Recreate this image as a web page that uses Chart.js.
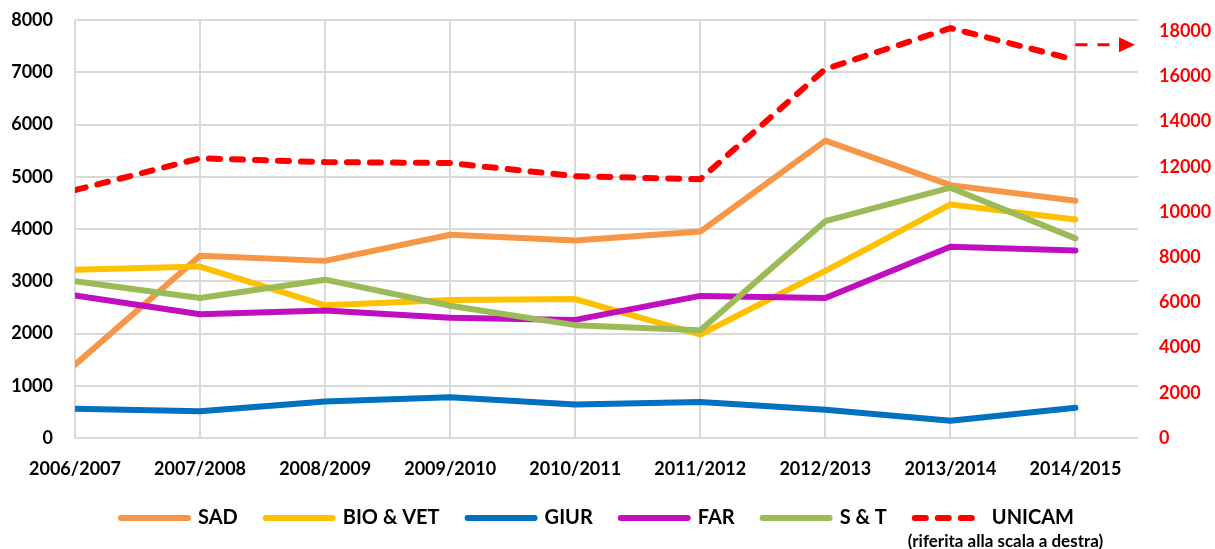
<!DOCTYPE html>
<html><head><meta charset="utf-8">
<script src="https://cdn.jsdelivr.net/npm/chart.js@4/dist/chart.umd.min.js"></script>
<style>html,body{margin:0;padding:0;background:#fff}#wrap{width:1215px;height:549px;position:relative}</style>
</head><body><div id="wrap"><canvas id="c" width="1215" height="549"></canvas></div>
<script>
const categories = ['2006/2007','2007/2008','2008/2009','2009/2010','2010/2011','2011/2012','2012/2013','2013/2014','2014/2015'];
const sad    = [1400,3490,3390,3890,3780,3950,5690,4840,4540];
const bioVet = [3220,3280,2540,2640,2660,1980,3200,4470,4180];
const giur   = [560,510,700,780,640,690,540,330,580];
const far    = [2730,2370,2440,2300,2260,2720,2680,3660,3590];
const st     = [3000,2680,3030,2530,2160,2060,4150,4790,3820];
const unicam = [10970,12380,12210,12170,11590,11450,16330,18140,16730];
const leftTicks  = [0,1000,2000,3000,4000,5000,6000,7000,8000];
const rightTicks = [0,2000,4000,6000,8000,10000,12000,14000,16000,18000];
const leftMax = 8000, rightMax = 18500;
const arrowLevel = 17400;
const subtitle = '(riferita alla scala a destra)';

const FONT = 'Lato, "Open Sans", sans-serif';
const toXY = arr => arr.map((v,i)=>({x:i,y:v}));
function ds(label, data, color, idx, axis, dash){
  return {label, data: toXY(data), borderColor: color, backgroundColor: color, borderWidth: 6,
    pointRadius: 0, pointHoverRadius: 0, tension: 0, borderJoinStyle: 'round', borderCapStyle: 'round',
    borderDash: dash || [], yAxisID: axis, order: 10 - idx, fill: false};
}

const arrowPlugin = {
  id: 'arrow',
  afterDatasetsDraw(chart){
    const ctx = chart.ctx, xs = chart.scales.x, ys = chart.scales.y1;
    const y = ys.getPixelForValue(arrowLevel);
    const x0 = xs.getPixelForValue(categories.length - 1);
    const x1 = chart.chartArea.right - 3;
    ctx.save();
    ctx.strokeStyle = '#ff0000'; ctx.fillStyle = '#ff0000';
    ctx.lineWidth = 3; ctx.setLineDash([12,10]);
    ctx.beginPath(); ctx.moveTo(x0, y); ctx.lineTo(x1 - 16, y); ctx.stroke();
    ctx.setLineDash([]);
    ctx.beginPath(); ctx.moveTo(x1 - 16, y - 7.5); ctx.lineTo(x1, y); ctx.lineTo(x1 - 16, y + 7.5); ctx.closePath(); ctx.fill();
    ctx.restore();
  }
};
const legendShift = {
  id: 'legendShift',
  afterLayout(chart){ if (chart.legend){ chart.legend.left -= 10; chart.legend.right -= 10; } }
};
const subtitlePlugin = {
  id: 'subtitleLegend',
  afterDraw(chart){
    const lg = chart.legend; if (!lg || !lg.legendHitBoxes) return;
    const hb = lg.legendHitBoxes[lg.legendHitBoxes.length - 1];
    const ctx = chart.ctx;
    ctx.save();
    ctx.font = 'bold 17px ' + FONT; ctx.fillStyle = '#000'; ctx.textAlign = 'center'; ctx.textBaseline = 'middle';
    ctx.fillText(subtitle, hb.left + hb.width/2 + 11, hb.top + hb.height/2 + 24);
    ctx.restore();
  }
};
const noPad = s => { s.paddingTop = 0; s.paddingBottom = 0; };

new Chart(document.getElementById('c'), {
  type: 'line',
  data: { datasets: [
    ds('SAD', sad, '#F79646', 0, 'y'),
    ds('BIO & VET', bioVet, '#FFC000', 1, 'y'),
    ds('GIUR', giur, '#0070C0', 2, 'y'),
    ds('FAR', far, '#C10EC1', 3, 'y'),
    ds('S & T', st, '#9BBB59', 4, 'y'),
    ds('UNICAM', unicam, '#FF0000', 5, 'y1', [11,12])
  ]},
  options: {
    responsive: false, devicePixelRatio: 1, animation: false,
    layout: { padding: { top: 20, bottom: 11, left: 0, right: 0 } },
    plugins: {
      tooltip: { enabled: false },
      legend: { position: 'bottom',
        labels: { usePointStyle: true, pointStyle: 'line', pointStyleWidth: 67, boxHeight: 20,
          font: { family: FONT, size: 20, weight: 'bold' }, color: '#000', padding: 28,
          sort: (a,b) => a.datasetIndex - b.datasetIndex,
          generateLabels(chart){
            const items = Chart.defaults.plugins.legend.labels.generateLabels(chart);
            items.forEach(it => {
              const d = chart.data.datasets[it.datasetIndex];
              it.lineDash = d.borderDash; it.lineCap = 'round'; it.lineWidth = 6;
              it.strokeStyle = d.borderColor; it.fillStyle = d.borderColor;
            });
            return items;
          } } }
    },
    scales: {
      x: { type: 'linear', min: 0, max: categories.length - 0.5,
        afterFit: s => { s.height = 42; },
        ticks: { stepSize: 1, includeBounds: false, autoSkip: false, maxRotation: 0, padding: 20,
          callback: v => categories[v] !== undefined ? categories[v] : '',
          font: { family: FONT, size: 18, weight: 'bold' }, color: '#000' },
        grid: { color: '#d9d9d9', lineWidth: 2, drawTicks: false },
        border: { display: false } },
      y: { position: 'left', min: 0, max: leftMax,
        afterFit: s => { s.width = 75; noPad(s); },
        afterBuildTicks: s => { s.ticks = leftTicks.map(v => ({value: v})); },
        ticks: { padding: 22, callback: v => String(v), font: { family: FONT, size: 18, weight: 'bold' }, color: '#000' },
        grid: { color: '#d9d9d9', lineWidth: 2, drawTicks: false },
        border: { display: false } },
      y1: { position: 'right', min: 0, max: rightMax,
        afterFit: s => { s.width = 77; noPad(s); },
        afterBuildTicks: s => { s.ticks = rightTicks.map(v => ({value: v})); },
        ticks: { padding: 21, callback: v => String(v), font: { family: FONT, size: 18, weight: 'bold' }, color: '#ff0000' },
        grid: { display: false, drawTicks: false },
        border: { display: false } }
    }
  },
  plugins: [arrowPlugin, legendShift, subtitlePlugin]
});
</script></body></html>
